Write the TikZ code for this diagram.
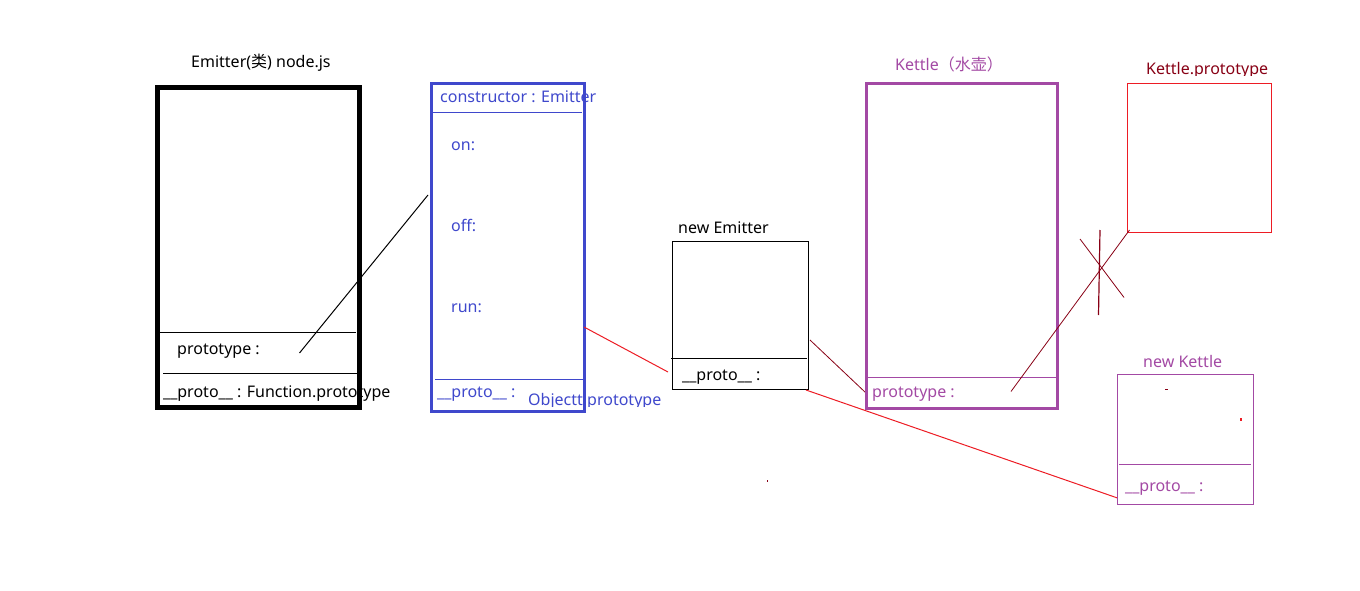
\documentclass[tikz,border=0pt]{standalone}
\usepackage{fontspec}
\setmainfont{Noto Sans}
\newfontfamily\cjk{Noto Sans CJK SC}
\definecolor{blueC}{HTML}{3F48CC}
\definecolor{purpleC}{HTML}{A349A4}
\definecolor{redC}{HTML}{ED1C24}
\definecolor{darkredC}{HTML}{880015}
\begin{document}
\begin{tikzpicture}[x=1pt,y=-1pt,
  lbl/.style={font=\fontsize{16}{19}\selectfont, anchor=base west, inner sep=0pt},
  boxnode/.style={draw, anchor=north west, inner sep=0pt, outer sep=0pt},
  thin/.style={line width=1pt}]
\useasboundingbox[fill=white] (0,0) rectangle (1360,591);

% ---------- Emitter box ----------
\node[boxnode, line width=5pt, minimum width=202pt, minimum height=319pt] (emitter) at (157,88) {};
\node[lbl] (emitterT) at (191,68) {Emitter({\cjk 类}) node.js};
\coordinate (ed1a) at (159,332); \coordinate (ed1b) at (356,332);
\coordinate (ed2a) at (163,373); \coordinate (ed2b) at (357,373);
\draw[thin] (ed1a) -- (ed1b);
\draw[thin] (ed2a) -- (ed2b);
\node[lbl] (eproto) at (177,354) {prototype :};
\node[lbl] (efunc) at (163,397) {\_\_proto\_\_ : Function.prototype};

% ---------- Emitter.prototype (blue) ----------
\node[boxnode, draw=blueC, line width=3pt, minimum width=153pt, minimum height=327pt] (eproto box) at (431,84) {};
\coordinate (bd1a) at (433,113); \coordinate (bd1b) at (582,113);
\coordinate (bd2a) at (435,379); \coordinate (bd2b) at (583,379);
\draw[thin, blueC] (bd1a) -- (bd1b);
\draw[thin, blueC] (bd2a) -- (bd2b);
\node[lbl, text=blueC] (ctor) at (440,103) {constructor : Emitter};
\node[lbl, text=blueC] (on) at (451,150) {on:};
\node[lbl, text=blueC] (off) at (451,231) {off:};
\node[lbl, text=blueC] (run) at (451,312) {run:};
\node[lbl, text=blueC] (bproto) at (437,397) {\_\_proto\_\_ :};
\begin{scope}
\clip (520,380) rectangle (680,406);
\node[lbl, text=blueC] (objp) at (528,405) {Objectt.prototype};
\end{scope}

% link prototype -> Emitter.prototype
\coordinate (l1a) at (299.5,353); \coordinate (l1b) at (428,195);
\draw[thin] (l1a) -- (l1b);

% ---------- new Emitter ----------
\node[boxnode, line width=1pt, minimum width=136pt, minimum height=148pt] (nemitter) at (672.5,241.5) {};
\node[lbl] (nemT) at (678,233) {new Emitter};
\coordinate (nd1a) at (671,358); \coordinate (nd1b) at (807,358);
\draw[thin] (nd1a) -- (nd1b);
\node[lbl] (nproto) at (682,380) {\_\_proto\_\_ :};

\coordinate (r1a) at (584,327); \coordinate (r1b) at (668,372);
\draw[thin, redC] (r1a) -- (r1b);
\coordinate (r2a) at (806,390); \coordinate (r2b) at (1117.5,498);
\draw[thin, redC] (r2a) -- (r2b);
\coordinate (d1a) at (810,340); \coordinate (d1b) at (866,393);
\draw[line width=0.8pt, darkredC] (d1a) -- (d1b);

% ---------- Kettle ----------
\node[boxnode, draw=purpleC, line width=3pt, minimum width=191pt, minimum height=325pt] (kettle) at (866.5,83.5) {};
\node[lbl, text=purpleC] (kettleT) at (895,71) {Kettle{\cjk （水壶）}};
\coordinate (kd1a) at (868,377); \coordinate (kd1b) at (1056,377);
\draw[thin, purpleC] (kd1a) -- (kd1b);
\node[lbl, text=purpleC] (kproto) at (872,397) {prototype :};

% ---------- Kettle.prototype ----------
\node[boxnode, draw=redC, line width=1pt, minimum width=144pt, minimum height=149pt] (kpbox) at (1127.5,83.5) {};
\begin{scope}
\clip (1130,50) rectangle (1290,76);
\node[lbl, text=darkredC] (kpT) at (1146,75) {Kettle.prototype};
\end{scope}
\coordinate (k1a) at (1011,391.5); \coordinate (k1b) at (1129.5,230);
\draw[line width=0.8pt, darkredC] (k1a) -- (k1b);
\coordinate (x1a) at (1080,239); \coordinate (x1b) at (1124,297.5);
\draw[line width=0.8pt, darkredC] (x1a) -- (x1b);
\coordinate (x2a) at (1100,230); \coordinate (x2b) at (1098.5,315);
\draw[line width=1.2pt, darkredC] (x2a) -- (x2b);

% ---------- new Kettle ----------
\node[boxnode, draw=purpleC, line width=1pt, minimum width=136pt, minimum height=130pt] (nkettle) at (1117.5,374.5) {};
\node[lbl, text=purpleC] (nkT) at (1143,367) {new Kettle};
\coordinate (nkd1a) at (1119,464); \coordinate (nkd1b) at (1251,464);
\draw[thin, purpleC] (nkd1a) -- (nkd1b);
\node[lbl, text=purpleC] (nkproto) at (1125,491) {\_\_proto\_\_ :};

% stray marks
\fill[darkredC] (1165,388.5) rectangle (1168,390);
\fill[redC] (1239.5,417.5) rectangle (1241.5,420.5);
\fill[darkredC] (766.5,480) rectangle (767.5,482);
\end{tikzpicture}
\end{document}
